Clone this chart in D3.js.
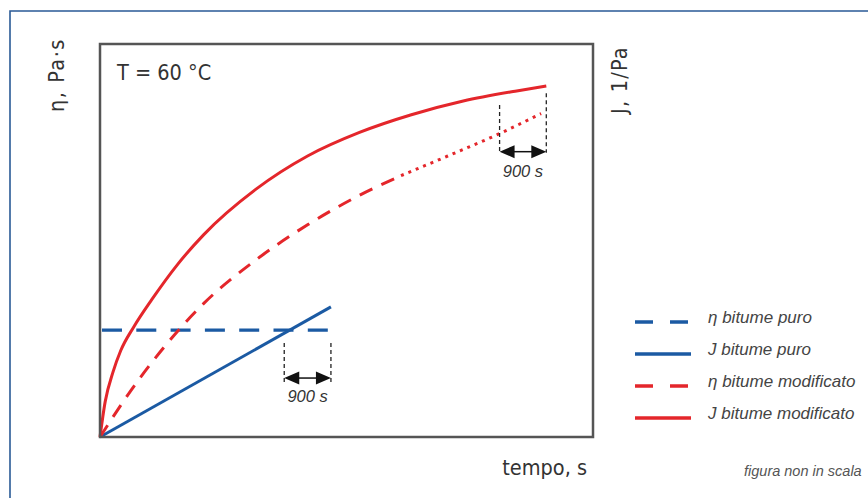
<!DOCTYPE html>
<html>
<head>
<meta charset="utf-8">
<script src="https://cdn.jsdelivr.net/npm/d3@7"></script>
<style>
  body { margin: 0; background: #fff; }
  svg { display: block; }
</style>
</head>
<body>
<script>
// valori (tempo in s, scala y arbitraria 0-100)
var tJmod = [0, 100, 250, 400, 650, 1000, 1500, 2000, 3000, 4000, 5000, 6000, 7000, 8000, 8600];
var Jmod = [0, 9, 16.5, 22, 28, 35, 44, 51.5, 63, 71.5, 77.5, 82, 85.5, 88, 89.3];

var tEtaMod = [0, 500, 1000, 1500, 2000, 3000, 4000, 5000, 5800];
var etaMod = [0, 10, 19, 27, 34, 45, 54, 61.5, 66.5];
var tEtaModDot = [5800, 6700, 7700, 8500];
var etaModDot = [66.5, 71.5, 77.2, 82.3];

var tPuro = [0, 4450];
var Jpuro = [0, 33.1];
var etaPuro = [27.2, 27.2];

var intervallo = 900;
var legendLabels = ['\u03B7 bitume puro', 'J bitume puro', '\u03B7 bitume modificato', 'J bitume modificato'];

var red = '#e4262b', blue = '#1b5aa3';

var W = 868, H = 498;
var svg = d3.select('body').append('svg').attr('width', W).attr('height', H);

// cornice blu esterna
svg.append('path').attr('d', 'M10,' + H + ' V11 H' + W)
  .attr('fill', 'none').attr('stroke', '#2a5a96').attr('stroke-width', 1.6);

var x = d3.scaleLinear().domain([0, 9500]).range([100, 593]);
var y = d3.scaleLinear().domain([0, 100]).range([437, 44]);

var line = d3.line().x(function(d) { return x(d[0]); }).y(function(d) { return y(d[1]); })
  .curve(d3.curveMonotoneX);
var zip = function(a, b) { return a.map(function(v, i) { return [v, b[i]]; }); };

// serie
svg.append('path').attr('d', line(zip(tPuro, etaPuro)))
  .attr('fill', 'none').attr('stroke', blue).attr('stroke-width', 3.2)
  .attr('stroke-dasharray', '20,14.3').attr('stroke-dashoffset', 32.3);
svg.append('path').attr('d', line(zip(tPuro, Jpuro)))
  .attr('fill', 'none').attr('stroke', blue).attr('stroke-width', 3);
svg.append('path').attr('d', line(zip(tEtaMod, etaMod)))
  .attr('fill', 'none').attr('stroke', red).attr('stroke-width', 3).attr('stroke-dasharray', '14,10');
svg.append('path').attr('d', line(zip(tEtaModDot, etaModDot)))
  .attr('fill', 'none').attr('stroke', red).attr('stroke-width', 3).attr('stroke-dasharray', '3,5');
svg.append('path').attr('d', line(zip(tJmod, Jmod)))
  .attr('fill', 'none').attr('stroke', red).attr('stroke-width', 3);

// cornice del grafico
svg.append('rect').attr('x', x(0)).attr('y', y(100))
  .attr('width', x(9500) - x(0)).attr('height', y(0) - y(100))
  .attr('fill', 'none').attr('stroke', '#555').attr('stroke-width', 2.5);

var italic = 'Liberation Sans, Arial, sans-serif';

// quote "900 s"
var quote = [
  { t: tPuro[1], top: [23.9, 23.9], bot: 13.2, arrow: 15, label: 8.9 },
  { t: tJmod[tJmod.length - 1], top: [84.5, 87.5], bot: 72.3, arrow: 72.6, label: 66.2 }
];
quote.forEach(function(q) {
  var x1 = x(q.t - intervallo), x2 = x(q.t);
  [[x1, q.top[0]], [x2, q.top[1]]].forEach(function(p) {
    svg.append('line').attr('x1', p[0]).attr('x2', p[0]).attr('y1', y(p[1])).attr('y2', y(q.bot))
      .attr('stroke', '#222').attr('stroke-width', 1.3).attr('stroke-dasharray', '4,3');
  });
  var ya = y(q.arrow);
  svg.append('line').attr('x1', x1 + 10).attr('x2', x2 - 10).attr('y1', ya).attr('y2', ya)
    .attr('stroke', '#111').attr('stroke-width', 1.5);
  svg.append('path').attr('d', 'M' + x1 + ',' + ya + ' l15,-6.5 l0,13 z').attr('fill', '#111');
  svg.append('path').attr('d', 'M' + x2 + ',' + ya + ' l-15,-6.5 l0,13 z').attr('fill', '#111');
  svg.append('text').attr('x', (x1 + x2) / 2).attr('y', y(q.label))
    .attr('text-anchor', 'middle').attr('font-family', italic)
    .attr('font-style', 'italic').attr('font-size', 16.5).attr('fill', '#333').text(intervallo + ' s');
});

// testi assi
var axisFont = 'DejaVu Sans Condensed, DejaVu Sans, sans-serif';
svg.append('text').attr('transform', 'translate(64,75) rotate(-90)').attr('text-anchor', 'middle')
  .attr('font-family', axisFont).attr('font-size', 21.5).attr('letter-spacing', 1.5)
  .attr('fill', '#333').text('\u03B7, Pa\u00B7s');
svg.append('text').attr('transform', 'translate(627,80) rotate(-90)').attr('text-anchor', 'middle')
  .attr('font-family', axisFont).attr('font-size', 21.5).attr('letter-spacing', 1.2)
  .attr('fill', '#333').text('J, 1/Pa');
svg.append('text').attr('x', 117).attr('y', 80)
  .attr('font-family', axisFont).attr('font-size', 21.5).attr('fill', '#333').text('T = 60 \u00B0C');
svg.append('text').attr('x', 587).attr('y', 475).attr('text-anchor', 'end')
  .attr('font-family', axisFont).attr('font-size', 21.5).attr('fill', '#333').text('tempo, s');

// legenda
var legendStyles = [
  { c: blue, dash: '18,17' }, { c: blue, dash: null },
  { c: red, dash: '18,17' }, { c: red, dash: null }
];
var leg = svg.selectAll('.leg').data(legendLabels).enter().append('g').attr('class', 'leg')
  .attr('transform', function(d, i) { return 'translate(635,' + (322 + i * 32) + ')'; });
leg.append('line').attr('x1', 0).attr('x2', 56).attr('y1', 0).attr('y2', 0)
  .attr('stroke', function(d, i) { return legendStyles[i].c; }).attr('stroke-width', 3.5)
  .attr('stroke-dasharray', function(d, i) { return legendStyles[i].dash; });
leg.append('text').attr('x', 73).attr('y', 1)
  .attr('font-family', italic).attr('font-style', 'italic')
  .attr('font-size', 17).attr('fill', '#444').text(function(d) { return d; });

// nel riferimento la nota arriva al bordo destro: qui resta appena dentro
svg.append('text').attr('x', 744).attr('y', 476)
  .attr('font-family', italic).attr('font-style', 'italic')
  .attr('font-size', 14.5).attr('fill', '#555').text('figura non in scala');
</script>
</body>
</html>
